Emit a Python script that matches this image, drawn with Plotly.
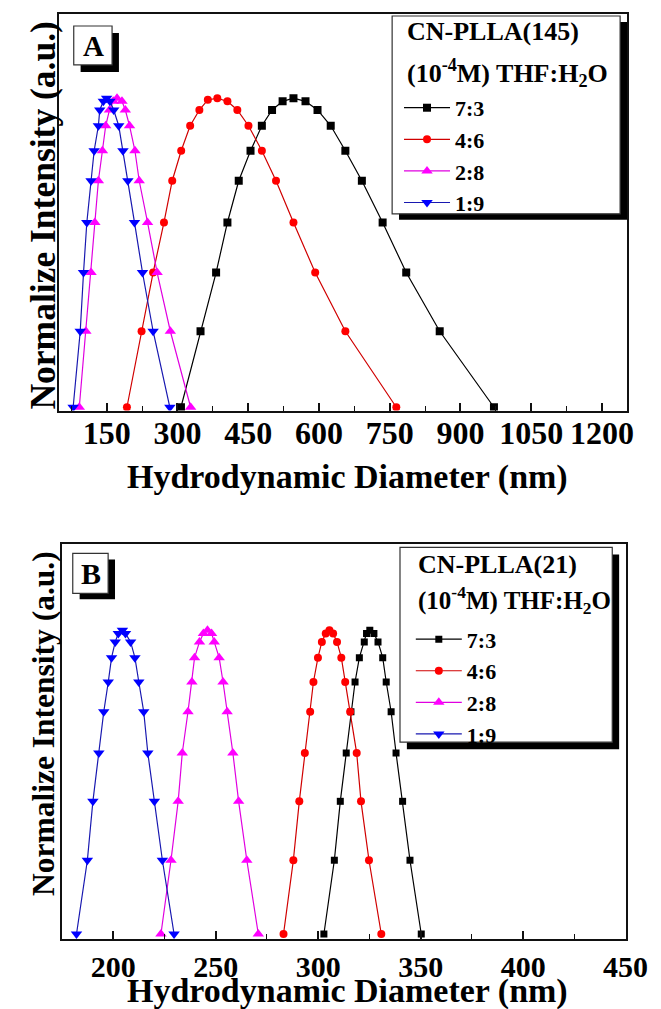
import plotly.graph_objects as go

# ---------------- data ----------------
ratios = ["7:3", "4:6", "2:8", "1:9"]

# Panel A : CN-PLLA(145)
a_x_73 = [307.5, 349, 382, 406, 430, 455, 479, 500.6, 523, 546, 571.5, 597, 625, 656, 691, 735, 785, 856, 971]
a_y_73 = [0, 0.246, 0.436, 0.598, 0.733, 0.830, 0.911, 0.962, 0.990, 1.0, 0.990, 0.962, 0.911, 0.830, 0.733, 0.598, 0.436, 0.246, 0]
a_x_46 = [193, 224, 248.5, 271.5, 289, 308, 327, 346.5, 364.5, 384.6, 406, 427, 450.6, 479, 509, 546, 592, 656, 764]
a_y_46 = [0, 0.246, 0.436, 0.598, 0.733, 0.830, 0.911, 0.962, 0.995, 1.0, 0.990, 0.962, 0.911, 0.830, 0.733, 0.598, 0.436, 0.246, 0]
a_x_28 = [92, 106, 117, 125, 132.5, 141, 148, 156, 164, 172, 182.5, 189.6, 198.5, 210, 219, 236.7, 257, 285, 328]
a_y_28 = [0, 0.246, 0.436, 0.598, 0.733, 0.830, 0.911, 0.962, 0.990, 1.0, 0.990, 0.962, 0.911, 0.830, 0.733, 0.598, 0.436, 0.246, 0]
a_x_19 = [79, 94, 101, 108, 117, 123.5, 132.5, 135.4, 143, 150, 157, 165, 175.6, 184.6, 195, 209, 226, 248.5, 284]
a_y_19 = [0, 0.246, 0.436, 0.598, 0.733, 0.830, 0.911, 0.962, 0.990, 1.0, 0.990, 0.962, 0.911, 0.830, 0.733, 0.598, 0.436, 0.246, 0]

# Panel B : CN-PLLA(21)
b_x_73 = [302.8, 307.9, 310.8, 313.7, 316.0, 318.0, 320.1, 322.5, 323.6, 325.2, 327.2, 329.2, 331.5, 333.2, 335.6, 338.0, 341.2, 344.8, 350.3]
b_y_73 = [0, 0.243, 0.437, 0.596, 0.732, 0.830, 0.910, 0.962, 0.990, 1.0, 0.990, 0.962, 0.910, 0.830, 0.732, 0.596, 0.437, 0.243, 0]
b_x_46 = [283.1, 287.9, 290.8, 293.5, 296.1, 297.7, 299.9, 301.8, 303.7, 305.5, 307.3, 309.2, 311.3, 313.2, 315.6, 318.8, 320.9, 324.8, 330.8]
b_y_46 = [0, 0.243, 0.437, 0.596, 0.732, 0.830, 0.910, 0.962, 0.990, 1.0, 0.990, 0.962, 0.910, 0.830, 0.732, 0.596, 0.437, 0.243, 0]
b_x_28 = [223.3, 228.2, 231.7, 233.7, 236.5, 238.4, 239.7, 242.1, 244.0, 246.0, 248.0, 249.3, 251.7, 253.6, 255.6, 258.4, 261.2, 265.2, 270.8]
b_y_28 = [0, 0.243, 0.437, 0.596, 0.732, 0.830, 0.910, 0.962, 0.990, 1.0, 0.990, 0.962, 0.910, 0.830, 0.732, 0.596, 0.437, 0.243, 0]
b_x_19 = [182.1, 187.4, 190.1, 193.0, 195.4, 197.6, 199.2, 201.0, 202.5, 204.5, 206.0, 208.5, 210.6, 212.5, 214.9, 216.9, 220.1, 224.0, 229.7]
b_y_19 = [0, 0.243, 0.437, 0.596, 0.732, 0.830, 0.910, 0.962, 0.990, 1.0, 0.990, 0.962, 0.910, 0.830, 0.732, 0.596, 0.437, 0.243, 0]

a_xtick_vals = [150, 300, 450, 600, 750, 900, 1050, 1200]
b_xtick_vals = [200, 250, 300, 350, 400, 450]

# ---------------- styling ----------------
W, H = 661, 1009
ML, MR, MT, MB = 59, 24, 13, 70
PW, PH = W - ML - MR, H - MT - MB
FONT = "Liberation Serif, Times New Roman, serif"


def px2x(px):
    return (px - ML) / PW


def py2y(py):
    return (H - MB - py) / PH


line_cols = ["#000000", "#D00000", "#E000E0", "#1818B0"]
mark_cols = ["#000000", "#FF0000", "#FF00FF", "#0000FF"]
symbols = ["square", "circle", "triangle-up", "triangle-down"]
a_sizes = [8, 8, 10, 10]
b_sizes = [7, 8, 10, 10]

fig = go.Figure()

a_series = [(a_x_73, a_y_73), (a_x_46, a_y_46), (a_x_28, a_y_28), (a_x_19, a_y_19)]
b_series = [(b_x_73, b_y_73), (b_x_46, b_y_46), (b_x_28, b_y_28), (b_x_19, b_y_19)]

for i, (xs, ys) in enumerate(a_series):
    fig.add_trace(go.Scatter(
        x=xs, y=ys, mode="lines+markers", name=ratios[i],
        line=dict(color=line_cols[i], width=1.2),
        marker=dict(symbol=symbols[i], size=a_sizes[i], color=mark_cols[i], line=dict(width=0)),
        xaxis="x", yaxis="y", legend="legend"))

for i, (xs, ys) in enumerate(b_series):
    fig.add_trace(go.Scatter(
        x=xs, y=ys, mode="lines+markers", name=ratios[i],
        line=dict(color=line_cols[i], width=1.2),
        marker=dict(symbol=symbols[i], size=b_sizes[i], color=mark_cols[i], line=dict(width=0)),
        xaxis="x2", yaxis="y2", legend="legend2"))

axis_common = dict(showline=True, mirror=True, linecolor="#111", linewidth=1.6,
                   showgrid=False, zeroline=False)
xcommon = dict(axis_common, ticks="inside", ticklen=8, tickwidth=1.5, tickcolor="#111")

fig.update_layout(
    width=W, height=H, autosize=False,
    margin=dict(l=ML, r=MR, t=MT, b=MB),
    paper_bgcolor="white", plot_bgcolor="white",
    font=dict(family=FONT, color="black"),
    xaxis=dict(xcommon, domain=[0, 1], anchor="y", range=[49, 1253],
               tickvals=a_xtick_vals, ticklabelstandoff=-7,
               tickfont=dict(family=FONT, size=32, color="black", weight="bold"),
               minor=dict(dtick=75, tick0=0, ticks="inside", ticklen=5, tickwidth=1.2, tickcolor="#111")),
    yaxis=dict(axis_common, domain=[py2y(410), 1], anchor="x", range=[-0.0107, 1.2726],
               showticklabels=False, ticks=""),
    xaxis2=dict(xcommon, domain=[px2x(62), px2x(636)], anchor="y2", range=[175, 450.2],
                tickvals=b_xtick_vals,
                tickfont=dict(family=FONT, size=30, color="black", weight="bold"),
                minor=dict(dtick=25, tick0=0, ticks="inside", ticklen=5, tickwidth=1.2, tickcolor="#111")),
    yaxis2=dict(axis_common, domain=[0, py2y(544)], anchor="x2", range=[-0.0164, 1.283],
                showticklabels=False, ticks=""),
    legend=dict(x=px2x(405), y=py2y(86), xanchor="left", yanchor="top",
                bgcolor="rgba(0,0,0,0)", borderwidth=0, itemwidth=46,
                font=dict(family=FONT, size=22, color="black", weight="bold"),
                tracegroupgap=0),
    legend2=dict(x=px2x(417), y=py2y(618), xanchor="left", yanchor="top",
                 bgcolor="rgba(0,0,0,0)", borderwidth=0, itemwidth=46,
                 font=dict(family=FONT, size=22, color="black", weight="bold"),
                 tracegroupgap=0),
)

shapes = []


def box_with_shadow(x0, y0, x1, y1, dx, dy, bw=1.2):
    shapes.append(dict(type="rect", xref="paper", yref="paper", layer="above",
                       x0=px2x(x0 + dx), x1=px2x(x1 + dx), y0=py2y(y1 + dy), y1=py2y(y0 + dy),
                       fillcolor="black", line=dict(width=0)))
    shapes.append(dict(type="rect", xref="paper", yref="paper", layer="above",
                       x0=px2x(x0), x1=px2x(x1), y0=py2y(y1), y1=py2y(y0),
                       fillcolor="white", line=dict(color="#333", width=bw)))


# legend boxes
box_with_shadow(398, 15, 630, 213, 7, 6)
box_with_shadow(406, 547, 622, 742, 7, 7)
# panel letter boxes
box_with_shadow(74, 25, 113, 64, 7, 7)
box_with_shadow(73, 553, 109, 593, 7, 6)

fig.update_layout(shapes=shapes)

ann = []


def text(px, py, s, size, xanchor="center", yanchor="middle", angle=0):
    ann.append(dict(xref="paper", yref="paper", x=px2x(px), y=py2y(py), text=s,
                    showarrow=False, xanchor=xanchor, yanchor=yanchor, textangle=angle,
                    font=dict(family=FONT, size=size, color="black", weight="bold")))


text(94, 45, "A", 29)
text(91.5, 573, "B", 30)

text(411, 31, "CN-PLLA(145)", 26, xanchor="left")
text(411, 72, "(10<sup>-4</sup>M) THF:H<sub>2</sub>O", 26, xanchor="left")
text(422, 564, "CN-PLLA(21)", 26, xanchor="left")
text(422, 600, "(10<sup>-4</sup>M) THF:H<sub>2</sub>O", 25, xanchor="left")

text(353, 477, "Hydrodynamic Diameter (nm)", 34)
text(353, 991, "Hydrodynamic Diameter (nm)", 34)
text(42.5, 215, "Normalize Intensity (a.u.)", 35.5, angle=-90)
text(42.5, 723, "Normalize Intensity (a.u.)", 31.5, angle=-90)

fig.update_layout(annotations=ann)

fig.write_html("out.html")
